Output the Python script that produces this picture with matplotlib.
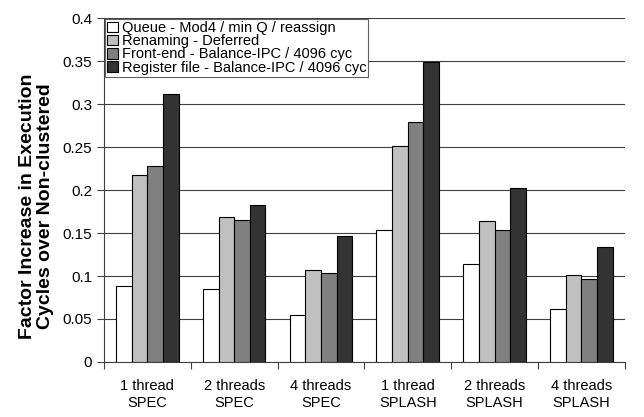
import numpy as np
import matplotlib.pyplot as plt

plt.rcParams['font.family'] = ['Liberation Sans', 'DejaVu Sans']

# --- data ---
groups = ["1 thread\nSPEC", "2 threads\nSPEC", "4 threads\nSPEC",
          "1 thread\nSPLASH", "2 threads\nSPLASH", "4 threads\nSPLASH"]
series = ["Queue - Mod4 / min Q / reassign",
          "Renaming - Deferred",
          "Front-end - Balance-IPC / 4096 cyc",
          "Register file - Balance-IPC / 4096 cyc"]
queue = [0.088, 0.085, 0.055, 0.154, 0.114, 0.062]
renaming = [0.218, 0.169, 0.107, 0.251, 0.164, 0.101]
frontend = [0.228, 0.165, 0.104, 0.279, 0.153, 0.097]
regfile = [0.312, 0.182, 0.146, 0.349, 0.202, 0.134]
colors = ["#ffffff", "#c0c0c0", "#808080", "#333333"]

# --- plot ---
fig = plt.figure(figsize=(6.44, 4.17), dpi=100)
ax = fig.add_axes([0.1615, 0.1319, 0.8085, 0.8249])

x = np.arange(len(groups))
w = 0.18
for i, (vals, name) in enumerate(zip([queue, renaming, frontend, regfile], series)):
    ax.bar(x + (i - 1.5) * w, vals, w, color=colors[i], edgecolor="black",
           linewidth=0.8, label=name, zorder=3)

ax.set_xlim(-0.5, len(groups) - 0.5)
ax.set_ylim(0, 0.4)
ax.set_yticks(np.arange(0, 0.401, 0.05))
ax.set_yticklabels(["0", "0.05", "0.1", "0.15", "0.2", "0.25", "0.3", "0.35", "0.4"])
ax.yaxis.grid(True, color="#404040", linewidth=0.8, zorder=0)
ax.set_xticks(x)
ax.set_xticklabels(groups, linespacing=1.3)
ax.set_xticks(np.arange(-0.5, len(groups), 1.0), minor=True)
ax.tick_params(axis="x", which="major", length=0, pad=12, labelsize=10.5)
ax.tick_params(axis="x", which="minor", length=5, width=0.8, color="#404040")
ax.tick_params(axis="y", length=5, width=0.8, color="#404040", labelsize=11)

for s in ["top", "right"]:
    ax.spines[s].set_visible(False)
for s in ["left", "bottom"]:
    ax.spines[s].set_color("#404040")
    ax.spines[s].set_linewidth(0.8)

ax.set_ylabel("Factor Increase in Execution\nCycles over Non-clustered",
              fontsize=14, fontweight="bold", linespacing=1.1)
ax.yaxis.set_label_coords(-0.096, 0.452)

leg = ax.legend(loc="upper left", bbox_to_anchor=(0.0, 1.0), fontsize=10.5,
                frameon=True, fancybox=False, framealpha=1, edgecolor="#606060",
                handlelength=0.75, handleheight=0.75, handletextpad=0.25,
                borderpad=0.15, labelspacing=-0.05, borderaxespad=0.05)
leg.get_frame().set_linewidth(0.8)
leg.set_zorder(5)

fig.savefig("out.png", dpi=100)
